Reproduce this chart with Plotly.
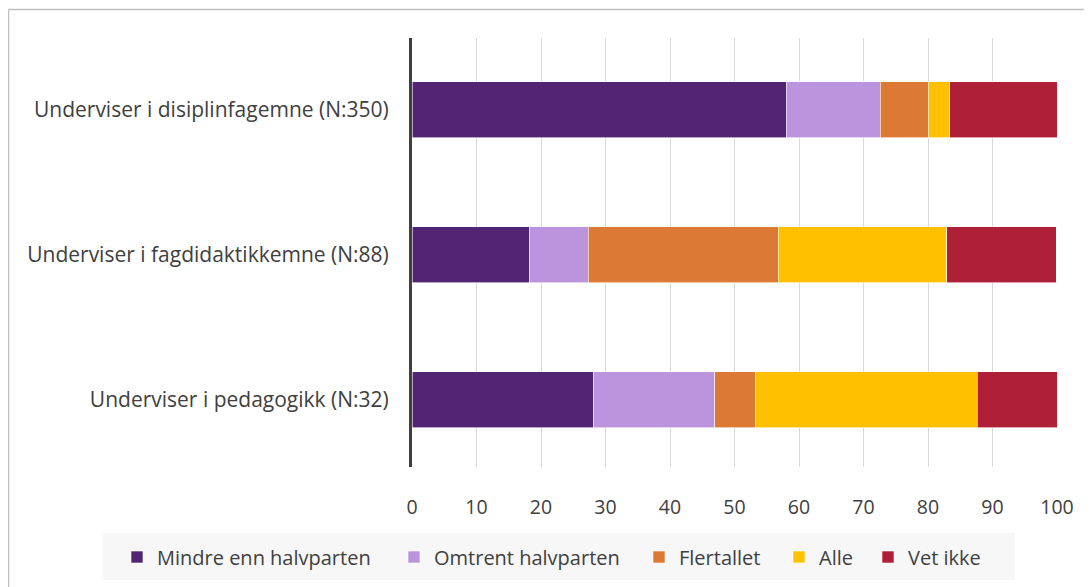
import plotly.graph_objects as go

categories = ["Underviser i pedagogikk (N:32)",
              "Underviser i fagdidaktikkemne (N:88)",
              "Underviser i disiplinfagemne (N:350)"]
series_names = ["Mindre enn halvparten", "Omtrent halvparten", "Flertallet", "Alle", "Vet ikke"]
mindre = [28.1, 18.2, 58.0]
omtrent = [18.8, 9.1, 14.6]
flertallet = [6.3, 29.5, 7.4]
alle = [34.4, 26.1, 3.4]
vet_ikke = [12.5, 17.0, 16.6]
colors = ["#522574", "#BC94DE", "#DC7A35", "#FFC000", "#AF1F37"]
tick_vals = [0, 10, 20, 30, 40, 50, 60, 70, 80, 90, 100]

# page has 8px body margin offset
OFF = 8
W, H = 1092, 587
L = 412 - OFF
T = 38 - OFF
Rpx = 1057 - OFF
Bpx = 467 - OFF
R = W - Rpx
B = H - Bpx
pw, ph = Rpx - L, Bpx - T

def px(x):
    return (x - OFF - L) / pw

def py(y):
    return (Bpx - (y - OFF)) / ph

legend_ids = ["legend", "legend2", "legend3", "legend4", "legend5"]
legend_text_x = [157, 434, 679, 819, 908]

fig = go.Figure()
for name, vals, col, lid in zip(series_names, [mindre, omtrent, flertallet, alle, vet_ikke], colors, legend_ids):
    fig.add_trace(go.Bar(y=categories, x=vals, name=name, orientation="h",
                         marker=dict(color=col, line=dict(color="white", width=0.6)),
                         width=0.387, legend=lid))

legend_layouts = {}
for lid, tx in zip(legend_ids, legend_text_x):
    legend_layouts[lid] = dict(orientation="h", x=px(tx - 40), xanchor="left",
                               y=py(557), yanchor="middle", bgcolor="rgba(0,0,0,0)",
                               font=dict(size=20, color="#404040"), itemwidth=30)

fig.update_layout(
    barmode="stack",
    width=W, height=H,
    margin=dict(l=L, r=R, t=T, b=B, autoexpand=False),
    paper_bgcolor="white", plot_bgcolor="white",
    font=dict(family="Open Sans, sans-serif", size=18, color="#404040"),
    showlegend=True,
    xaxis=dict(range=[0, 100], tickvals=tick_vals, showgrid=True, gridcolor="#D9D9D9",
               gridwidth=1, zeroline=False, showline=False, ticks="",
               ticklabelstandoff=26, tickfont=dict(size=19.5)),
    yaxis=dict(range=[-0.466, 2.497], showgrid=False, showline=True, linecolor="#404040",
               linewidth=3, ticks="", ticklabelstandoff=16, tickfont=dict(size=21)),
    **legend_layouts,
)

# legend background
fig.add_shape(type="rect", xref="paper", yref="paper", x0=px(103), x1=px(1015),
              y0=py(533), y1=py(580), fillcolor="#F7F7F7", line=dict(width=0), layer="below")
# outer frame (top and left lines)
fig.add_shape(type="line", xref="paper", yref="paper", x0=px(8.5), x1=px(1100), y0=py(9.5), y1=py(9.5),
              line=dict(color="#BFBFBF", width=1.5))
fig.add_shape(type="line", xref="paper", yref="paper", x0=px(8.5), x1=px(8.5), y0=py(9.5), y1=py(600),
              line=dict(color="#BFBFBF", width=1.5))

fig.write_html("out.html")
